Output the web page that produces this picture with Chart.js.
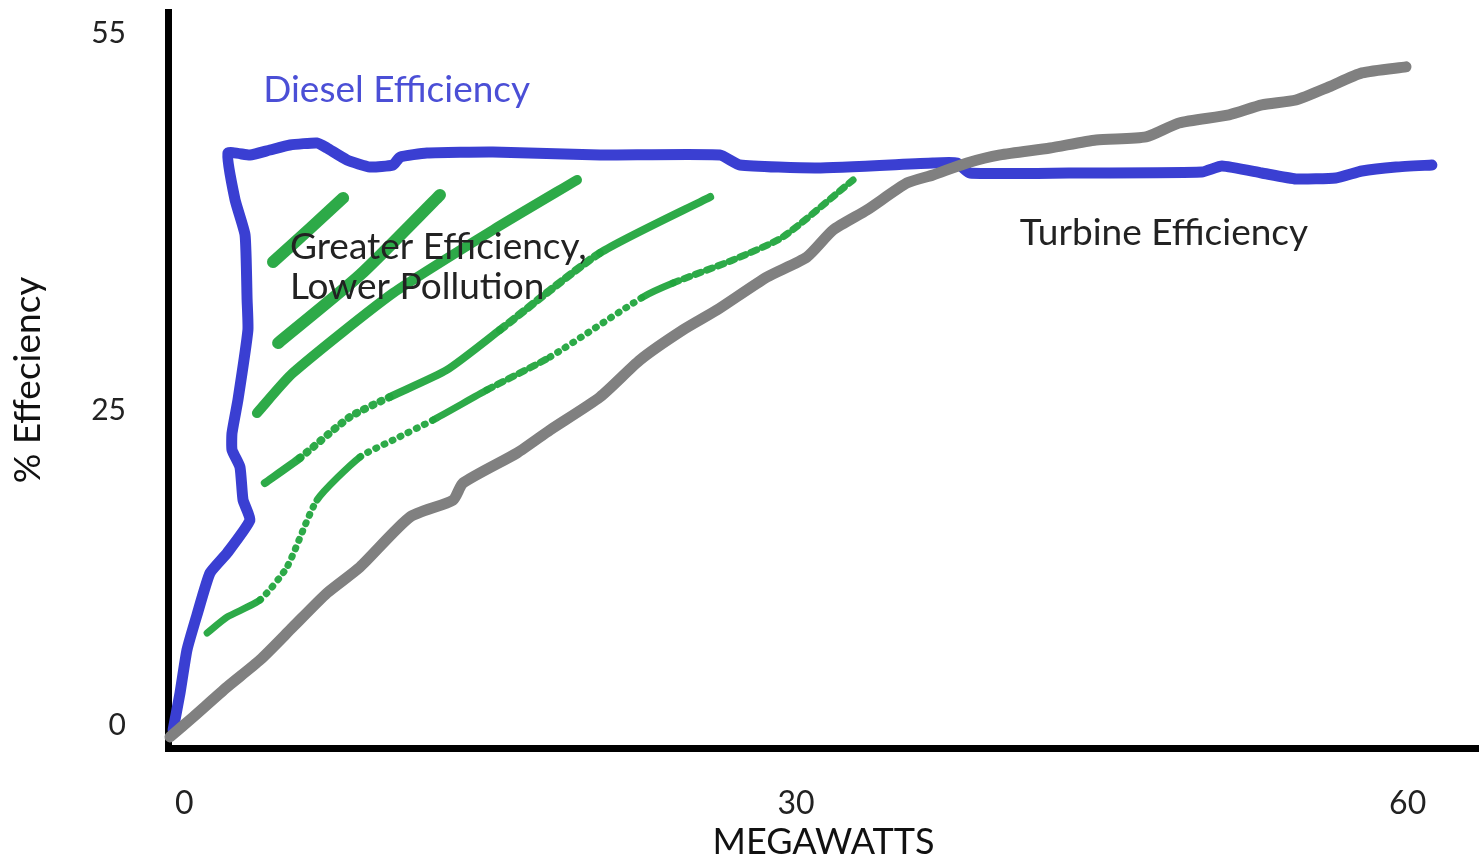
<!DOCTYPE html>
<html>
<head>
<meta charset="utf-8">
<title>Diesel vs Turbine Efficiency</title>
<script src="https://cdn.jsdelivr.net/npm/chart.js@4.4.1/dist/chart.umd.min.js"></script>
<style>
  html, body { margin: 0; padding: 0; background: #fff; }
  #wrap { position: relative; width: 1479px; height: 862px; }
</style>
</head>
<body>
<div id="wrap"><canvas id="chart"></canvas></div>
<script>
// axis ticks
const xTicks = [0, 30, 60];
const yTicks = [0, 25, 55];

// hand drawn curves (megawatts, % efficiency)
const dieselMW = [-0.55, -0.21, 0.13, 0.62, 1.26, 2.10, 3.22, 2.88, 2.73, 2.34, 2.34, 2.63, 3.12, 3.08, 2.98, 2.49, 2.14,
    3.22, 4.20, 5.18, 6.51, 7.00, 7.98, 9.11, 10.24, 10.58, 11.90, 15.14, 20.39, 26.27, 27.25, 31.03, 36.72, 37.90,
    38.53, 43.39, 49.91, 50.89, 52.85, 54.52, 56.48, 57.76, 59.43, 61.19];
const dieselEff = [-0.37, 2.57, 5.99, 8.77, 12.11, 13.70, 16.32, 17.91, 20.53, 21.89, 23.24, 25.86, 31.42, 33.81, 38.97, 41.76, 45.49,
    45.33, 45.73, 46.13, 46.29, 45.89, 44.94, 44.38, 44.54, 45.17, 45.49, 45.57, 45.33, 45.33, 44.54, 44.30, 44.70, 44.70,
    43.90, 43.90, 43.98, 44.46, 43.90, 43.43, 43.51, 44.06, 44.38, 44.54];

const turbineMW = [-0.70, 0.43, 2.10, 3.71, 5.33, 7.00, 8.62, 11.07, 13.18, 13.67, 16.32, 17.94, 20.39, 22.35, 24.46, 26.13,
    28.58, 30.54, 31.82, 33.49, 35.45, 36.72, 38.39, 40.01, 42.46, 44.72, 47.17, 48.79, 51.24, 52.85, 54.52, 56.14, 57.76, 59.92];
const turbineEff = [-0.92, 0.66, 3.05, 5.19, 7.82, 10.52, 12.59, 16.56, 17.91, 19.26, 21.65, 23.48, 26.10, 29.04, 31.43, 33.02,
    35.64, 37.23, 39.37, 40.97, 43.11, 43.75, 44.70, 45.34, 45.89, 46.53, 46.77, 47.88, 48.52, 49.31, 49.71, 50.75, 51.86, 52.34];

// green hatching strokes in the "better" region
const hatch1X = [4.35, 6.17, 7.79];
const hatch1Y = [36.83, 39.50, 41.92];
const hatch2X = [4.60, 8.62, 12.54];
const hatch2Y = [30.39, 35.80, 42.16];
const hatch3X = [3.56, 5.32, 10.25, 15.14, 19.26];
const hatch3Y = [24.82, 28.00, 34.37, 39.38, 43.35];
const hatch4X = [3.95, 5.67, 8.12, 10.08, 12.88, 15.48, 20.39, 25.79];
const hatch4Y = [19.26, 21.25, 24.51, 26.10, 28.25, 31.43, 37.55, 42.00];
const hatch5X = [1.12, 2.10, 3.71, 5.04, 6.51, 8.62, 10.24, 12.20, 14.85, 17.94, 22.50, 23.97, 26.91, 29.36, 32.80];
const hatch5Y = [7.34, 8.61, 9.96, 12.59, 17.91, 21.33, 22.68, 24.27, 26.66, 29.28, 34.05, 35.16, 36.99, 38.82, 43.35];

// which segments of the hatching look thin / dotted
const hatch4Sparse = [1, 2];
const hatch4Medium = [5];
const hatch5Sparse = [2, 3, 5, 6, 9];
const hatch5Medium = [8, 11, 12, 13];

const notes = [
    {text: 'Diesel Efficiency', x: 3.87, y: 50.5, color: '#4b4fd6'},
    {text: 'Greater Efficiency,', x: 5.18, y: 38.0, color: '#222'},
    {text: 'Lower Pollution', x: 5.18, y: 34.8, color: '#222'},
    {text: 'Turbine Efficiency', x: 40.98, y: 39.14, color: '#222'}
];

const FONT = 'Lato, "Open Sans", sans-serif';
const GREEN = 'rgba(34, 165, 62, 0.95)';

function toPoints(xs, ys) {
    let pts = [];
    for (let i = 0; i < xs.length; i++) {
        pts.push({x: xs[i], y: ys[i]});
    }
    return pts;
}

function dashFor(sparse, medium) {
    return function (ctx) {
        if (sparse.indexOf(ctx.p0DataIndex) >= 0) return [1, 8];
        if (medium.indexOf(ctx.p0DataIndex) >= 0) return [6, 6];
        return undefined;
    };
}

function hatch(xs, ys, width, sparse, medium) {
    return {
        data: toPoints(xs, ys),
        borderColor: GREEN,
        borderWidth: width,
        borderCapStyle: 'round',
        borderJoinStyle: 'round',
        pointRadius: 0,
        tension: 0.2,
        segment: sparse ? {borderDash: dashFor(sparse, medium)} : undefined
    };
}

// text notes drawn on top of the curves
const notesPlugin = {
    id: 'notes',
    afterDatasetsDraw: function (chart) {
        let ctx = chart.ctx;
        let xs = chart.scales.x, ys = chart.scales.y;
        ctx.save();
        ctx.font = '37px ' + FONT;
        ctx.textAlign = 'left';
        ctx.textBaseline = 'middle';
        notes.forEach(n => {
            ctx.fillStyle = n.color;
            ctx.fillText(n.text, xs.getPixelForValue(n.x), ys.getPixelForValue(n.y));
        });
        ctx.restore();
    }
};

let ctx = document.getElementById('chart').getContext('2d');
let mychart = new Chart(ctx, {
    type: 'line',
    data: {
        datasets: [
            hatch(hatch1X, hatch1Y, 12),
            hatch(hatch2X, hatch2Y, 12),
            hatch(hatch3X, hatch3Y, 10),
            hatch(hatch4X, hatch4Y, 8, hatch4Sparse, hatch4Medium),
            hatch(hatch5X, hatch5Y, 7, hatch5Sparse, hatch5Medium),
            {
                label: 'Turbine Efficiency',
                data: toPoints(turbineMW, turbineEff),
                borderColor: '#808080',
                borderWidth: 11,
                borderCapStyle: 'round',
                borderJoinStyle: 'round',
                pointRadius: 0,
                tension: 0.2
            },
            {
                label: 'Diesel Efficiency',
                data: toPoints(dieselMW, dieselEff),
                borderColor: '#3a3fd2',
                borderWidth: 11,
                borderCapStyle: 'round',
                borderJoinStyle: 'round',
                pointRadius: 0,
                tension: 0.15
            }
        ]
    },
    plugins: [notesPlugin],
    options: {
        responsive: true,
        maintainAspectRatio: false,
        animation: false,
        clip: false,
        layout: {padding: {top: 12, right: 0, bottom: 0, left: 0}},
        plugins: {
            legend: {display: false},
            tooltip: {enabled: false}
        },
        scales: {
            x: {
                type: 'linear',
                min: -0.8,
                max: 63.5,
                grid: {display: false, drawTicks: false},
                border: {display: true, color: '#000', width: 7},
                afterBuildTicks: function (scale) {
                    scale.ticks = xTicks.map(v => ({value: v}));
                },
                afterFit: function (scale) {
                    scale.height = 114;
                    scale.paddingLeft = 0;
                    scale.paddingRight = 0;
                },
                ticks: {
                    autoSkip: false,
                    maxRotation: 0,
                    padding: 36,
                    color: '#222',
                    font: {family: FONT, size: 32}
                },
                title: {
                    display: true,
                    text: 'MEGAWATTS',
                    color: '#111',
                    padding: {top: 0, bottom: 2},
                    font: {family: FONT, size: 36, lineHeight: 1}
                }
            },
            y: {
                type: 'linear',
                min: -1.8,
                max: 56.7,
                grid: {display: false, drawTicks: false},
                border: {display: true, color: '#000', width: 7},
                afterBuildTicks: function (scale) {
                    scale.ticks = yTicks.map(v => ({value: v}));
                },
                afterFit: function (scale) {
                    scale.width = 168;
                    scale.paddingTop = 0;
                    scale.paddingBottom = 0;
                },
                ticks: {
                    autoSkip: false,
                    padding: 42,
                    color: '#222',
                    font: {family: FONT, size: 30}
                },
                title: {
                    display: true,
                    text: '% Effeciency',
                    color: '#111',
                    padding: {top: 10, bottom: 0},
                    font: {family: FONT, size: 37, lineHeight: 1}
                }
            }
        }
    }
});
</script>
</body>
</html>
